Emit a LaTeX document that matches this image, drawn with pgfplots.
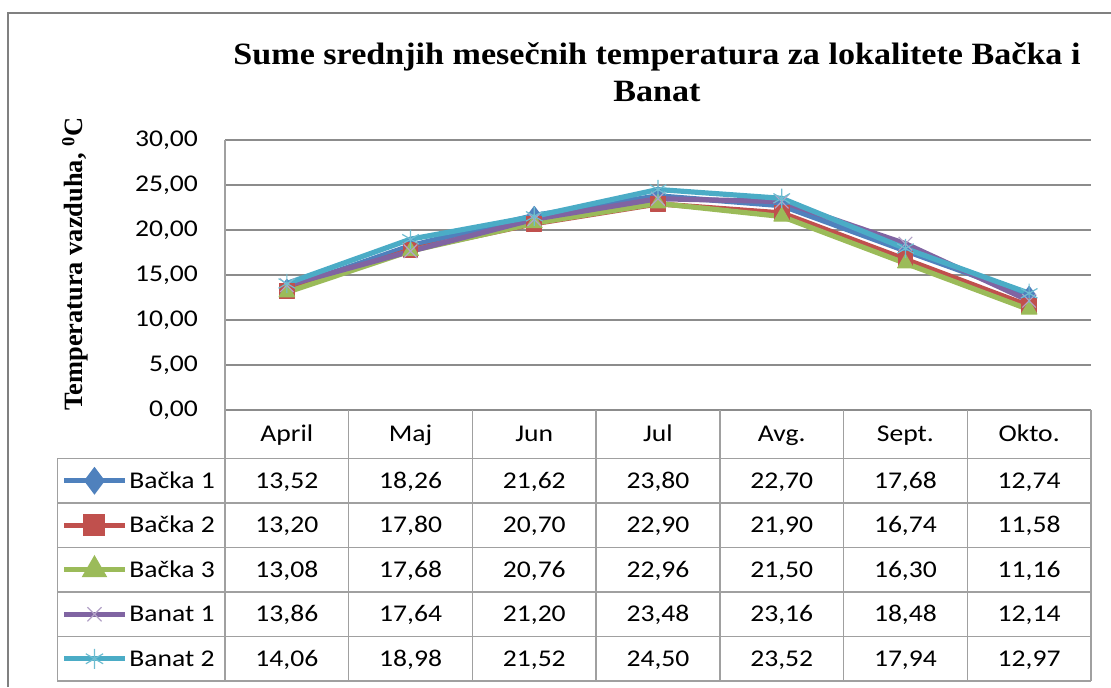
\documentclass[border=0pt]{standalone}
\usepackage{fontspec}
\setmainfont{Carlito}[FakeStretch=1.15]
\newfontfamily\titlefont{Liberation Serif}[FakeStretch=1.1]
\newfontfamily\ylabfont{Liberation Serif}
\usepackage{pgfplots}
\usepackage{pgfplotstable}
\pgfplotsset{compat=1.18}

\definecolor{cA}{HTML}{4F81BD}
\definecolor{cB}{HTML}{C0504D}
\definecolor{cC}{HTML}{9BBB59}
\definecolor{cD}{HTML}{8064A2}
\definecolor{cE}{HTML}{4BACC6}
\definecolor{gridgray}{RGB}{140,140,140}
\definecolor{tabgray}{RGB}{160,160,160}
\definecolor{framegray}{RGB}{128,128,128}

\pgfplotstableread{
x y
0.5 13.52
1.5 18.26
2.5 21.62
3.5 23.80
4.5 22.70
5.5 17.68
6.5 12.74
}\bacA
\pgfplotstableread{
x y
0.5 13.20
1.5 17.80
2.5 20.70
3.5 22.90
4.5 21.90
5.5 16.74
6.5 11.58
}\bacB
\pgfplotstableread{
x y
0.5 13.08
1.5 17.68
2.5 20.76
3.5 22.96
4.5 21.50
5.5 16.30
6.5 11.16
}\bacC
\pgfplotstableread{
x y
0.5 13.86
1.5 17.64
2.5 21.20
3.5 23.48
4.5 23.16
5.5 18.48
6.5 12.14
}\banA
\pgfplotstableread{
x y
0.5 14.06
1.5 18.98
2.5 21.52
3.5 24.50
4.5 23.52
5.5 17.94
6.5 12.97
}\banB

\newcommand{\tabfont}{\fontsize{12}{14}\selectfont}

\begin{document}
\begin{tikzpicture}
\begin{axis}[
  at={(0,0)}, anchor=south west,
  scale only axis, width=433pt, height=135pt,
  xmin=0, xmax=7, ymin=0, ymax=30,
  ytick={0,5,...,30},
  xtick={0.5,1.5,2.5,3.5,4.5,5.5,6.5},
  xticklabels={April,Maj,Jun,Jul,Avg.,Sept.,Okto.},
  ymajorgrids,
  grid style={draw=gridgray, line width=0.8pt},
  axis line style={draw=none},
  major tick length=0pt,
  clip=false,
  tick label style={font=\tabfont},
  yticklabel style={xshift=-10pt},
  xticklabel style={anchor=base, yshift=-15.8pt},
  every node near coord/.append style={anchor=base, yshift=-3.8pt, font=\tabfont, inner sep=0pt},
  /pgf/number format/use comma,
  /pgf/number format/fixed,
  /pgf/number format/fixed zerofill,
  /pgf/number format/precision=2,
  /pgf/number format/assume math mode=true,
]
% series
\addplot[line width=2.6pt, line join=round, color=cA, mark=diamond*, mark size=4.5pt, mark options={solid, line width=0.5pt}] table[x=x,y=y]{\bacA};
\addplot[line width=2.6pt, line join=round, color=cB, mark=square*, mark size=3.7pt, mark options={solid, line width=0.5pt}] table[x=x,y=y]{\bacB};
\addplot[line width=2.6pt, line join=round, color=cC, mark=triangle*, mark size=4.5pt, mark options={solid, line width=0.5pt}] table[x=x,y=y]{\bacC};
\addplot[line width=2.6pt, line join=round, color=cD, mark=x, mark size=4.8pt, mark options={solid, line width=0.6pt, draw=cD!60}] table[x=x,y=y]{\banA};
\addplot[line width=2.6pt, line join=round, color=cE, mark=asterisk, mark size=4.8pt, mark options={solid, line width=0.6pt, draw=cE!80}] table[x=x,y=y]{\banB};

% legend samples in the data table
\addplot[forget plot, line width=2.4pt, color=cA, mark=diamond*, mark size=5pt, mark indices={2}, mark options={solid}] coordinates {(-1.30,-7.861) (-1.055,-7.861) (-0.81,-7.861)};
\addplot[forget plot, line width=2.4pt, color=cB, mark=square*, mark size=4.3pt, mark indices={2}, mark options={solid}] coordinates {(-1.30,-12.806) (-1.055,-12.806) (-0.81,-12.806)};
\addplot[forget plot, line width=2.4pt, color=cC, mark=triangle*, mark size=5pt, mark indices={2}, mark options={solid}] coordinates {(-1.30,-17.75) (-1.055,-17.75) (-0.81,-17.75)};
\addplot[forget plot, line width=2.4pt, color=cD, mark=x, mark size=5pt, mark indices={2}, mark options={solid, line width=0.6pt, draw=cD!60}] coordinates {(-1.30,-22.694) (-1.055,-22.694) (-0.81,-22.694)};
\addplot[forget plot, line width=2.4pt, color=cE, mark=asterisk, mark size=5pt, mark indices={2}, mark options={solid, line width=0.6pt, draw=cE!80}] coordinates {(-1.30,-27.639) (-1.055,-27.639) (-0.81,-27.639)};

% table values
\addplot[forget plot, draw=none, mark=none, nodes near coords, point meta=explicit] table[x=x, y expr=-7.861, meta=y]{\bacA};
\addplot[forget plot, draw=none, mark=none, nodes near coords, point meta=explicit] table[x=x, y expr=-12.806, meta=y]{\bacB};
\addplot[forget plot, draw=none, mark=none, nodes near coords, point meta=explicit] table[x=x, y expr=-17.75, meta=y]{\bacC};
\addplot[forget plot, draw=none, mark=none, nodes near coords, point meta=explicit] table[x=x, y expr=-22.694, meta=y]{\banA};
\addplot[forget plot, draw=none, mark=none, nodes near coords, point meta=explicit] table[x=x, y expr=-27.639, meta=y]{\banB};
\end{axis}

\begin{scope}[x=0.5pt, y=-0.5pt, shift={(-225,-410)}]
  % frame
  \draw[framegray, line width=1pt] (8,687) -- (8,12.5) -- (1111,12.5);
  % table grid
  \draw[tabgray, line width=0.7pt] (225,140) -- (225,681);
  \foreach \k in {1,...,7} {
    \draw[tabgray, line width=0.7pt] ({225+\k*123.714},410) -- ({225+\k*123.714},681);
  }
  \draw[tabgray, line width=0.7pt] (57.5,458.5) -- (57.5,681);
  \foreach \yy in {458.5,503,547.5,592,636.5,681} {
    \draw[tabgray, line width=0.7pt] (57.5,\yy) -- (1091,\yy);
  }
  % legend names
  \foreach \nm/\yy in {Bačka 1/480.75, Bačka 2/525.25, Bačka 3/569.75, Banat 1/614.25, Banat 2/658.75} {
    \node[anchor=base west, inner sep=0pt, font=\tabfont] at (129,\yy+7.6) {\nm};
  }
  % title
  \node[anchor=base, inner sep=0pt, font=\titlefont\bfseries\fontsize{15.5}{18}\selectfont] at (657,64.3) {Sume srednjih mesečnih temperatura za lokalitete Bačka i};
  \node[anchor=base, inner sep=0pt, font=\titlefont\bfseries\fontsize{15.5}{18}\selectfont] at (657,101.7) {Banat};
  % y label
  \node[anchor=base, rotate=90, inner sep=0pt, font=\ylabfont\bfseries\fontsize{13.2}{15}\selectfont] at (83,264) {Temperatura vazduha, \textsuperscript{0}C};
  \pgfresetboundingbox
  \path (0,0) rectangle (1111,687);
\end{scope}
\end{tikzpicture}
\end{document}
